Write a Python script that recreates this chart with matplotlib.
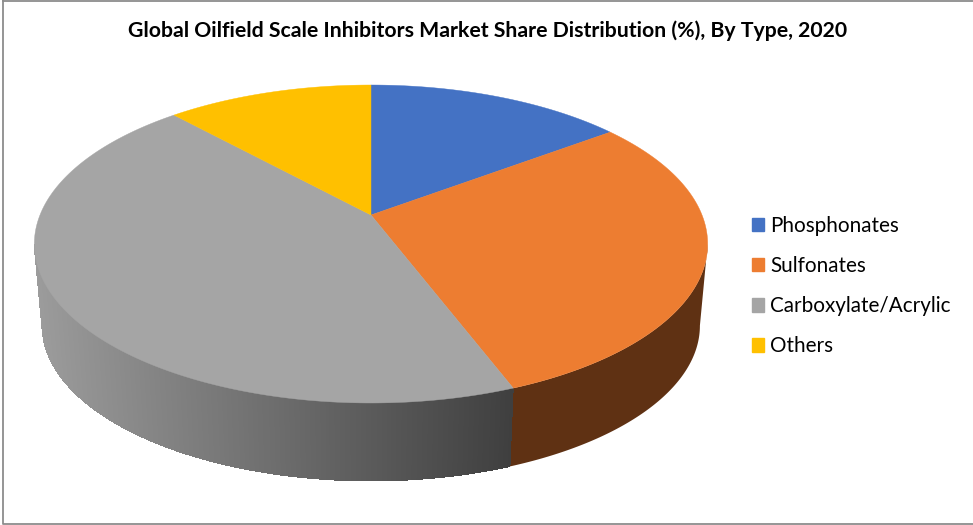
import numpy as np
import matplotlib
matplotlib.use("Agg")
import matplotlib.pyplot as plt
from matplotlib.patches import Patch

title = "Global Oilfield Scale Inhibitors Market Share Distribution (%), By Type, 2020"
types = ["Phosphonates", "Sulfonates", "Carboxylate/Acrylic", "Others"]
shares = [14.8, 29.4, 44.0, 11.8]
colors = ["#4472C4", "#ED7D31", "#A5A5A5", "#FFC000"]
wall_color = "#5F3113"


def top_disc(theta):
    # theta is clockwise from 12 o'clock, perspective keeps the apex above the ellipse centre
    u = np.sin(theta)
    v = np.cos(theta)
    w = 1 + 0.1824 * v
    return 331 * u / w, -153.7 * v / w


def to_pixels(theta, lower=False):
    x, y = top_disc(theta)
    if lower:
        return 371 + 0.977 * x, 215 + 0.977 * y + 82.3
    return 371 + x, 215 + y


def main():
    fig = plt.figure(figsize=(9.73, 5.25), dpi=100)
    ax = fig.add_axes([0, 0, 1, 1])
    ax.set_xlim(0, 973)
    ax.set_ylim(525, 0)
    ax.axis("off")

    edges = np.radians(np.concatenate([[0], np.cumsum(shares)]) * 3.6)

    # side wall, limited to the two points where the disc outline turns
    for i in range(len(shares)):
        start = max(edges[i], np.radians(100.5))
        stop = min(edges[i + 1], np.radians(259.5))
        if stop <= start:
            continue
        if colors[i] != "#A5A5A5":
            steps = np.linspace(start, stop, 200)
            x1, y1 = to_pixels(steps)
            x2, y2 = to_pixels(steps, lower=True)
            ax.fill(np.r_[x1, x2[::-1]], np.r_[y1, y2[::-1]], color=wall_color, lw=0)
            continue
        # gray wall fades left to right: smooth pass for the edge, aliased pass hides the seams
        steps = np.linspace(start, stop, 400)
        for smooth in (True, False):
            for a, b in zip(steps[:-1], steps[1:]):
                xa, ya = to_pixels(a)
                xb, yb = to_pixels(b)
                xc, yc = to_pixels(b, lower=True)
                xd, yd = to_pixels(a, lower=True)
                level = np.clip(0.61 - (xa - 35) / 475 * 0.36, 0, 1)
                ax.fill([xa, xb, xc, xd], [ya, yb, yc, yd], color=(level, level, level),
                        lw=0, antialiased=smooth)

    # top of the pie
    for i in range(len(shares)):
        steps = np.linspace(edges[i], edges[i + 1], 200)
        x, y = to_pixels(steps)
        ax.fill(np.r_[371, x], np.r_[215, y], color=colors[i], lw=0.3)

    # chart frame
    ax.plot([2.5, 2.5, 973], [0, 523.5, 523.5], color="#8C8C8C", lw=1.3)
    ax.plot([2.5, 973], [0.5, 0.5], color="#8C8C8C", lw=1.3)

    ax.text(487.5, 31, title, ha="center", va="center", fontsize=15.35,
            fontweight="bold", family="Lato", color="black")

    handles = [Patch(color=c) for c in colors]
    ax.legend(handles, types, loc="upper left", bbox_to_anchor=(752 / 973, 1 - 216 / 525),
              frameon=False, prop={"family": "Lato", "size": 14.9}, handlelength=0.58,
              handleheight=0.62, handletextpad=0.3, labelspacing=0.97,
              borderpad=0, borderaxespad=0, labelcolor="black")

    fig.savefig("out.png", dpi=100, facecolor="white")


main()
